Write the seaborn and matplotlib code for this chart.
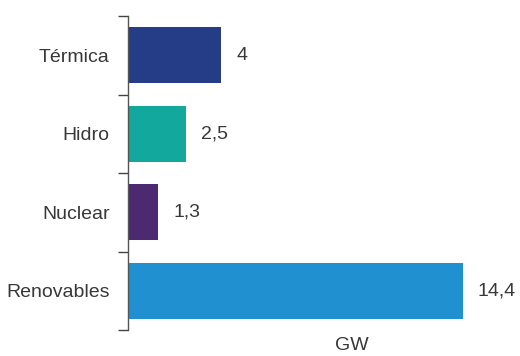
import matplotlib
matplotlib.use("Agg")
import matplotlib.pyplot as plt
import matplotlib.ticker as ticker
import pandas as pd
import seaborn as sns

categorias = ["Térmica", "Hidro", "Nuclear", "Renovables"]
potencia = [4.0, 2.5, 1.3, 14.4]
etiquetas = ["4", "2,5", "1,3", "14,4"]
colores = ["#253d87", "#12a89d", "#4b2a72", "#2190d0"]

df = pd.DataFrame({"categoria": categorias, "gw": potencia})

sns.set_style("white")
plt.rcParams["font.family"] = ["Liberation Sans", "DejaVu Sans"]

fig = plt.figure(figsize=(5.2, 3.56), dpi=100)
ax = fig.add_axes([0.246, 0.073, 0.75, 0.882])

sns.barplot(data=df, y="categoria", x="gw", hue="categoria", palette=colores,
            orient="h", width=0.71, legend=False, ax=ax, saturation=1,
            linewidth=0)

fs = 14
txt = "#383838"
for i, (v, t) in enumerate(zip(potencia, etiquetas)):
    ax.text(v + 0.65, i, t, va="center", ha="left", fontsize=fs, color=txt)

ax.set_xlim(0, 16.77)
ax.set_ylim(3.5, -0.5)
ax.set_xlabel("")
ax.set_ylabel("")
ax.set_xticks([])
ax.yaxis.set_minor_locator(ticker.FixedLocator([-0.5, 0.5, 1.5, 2.5, 3.5]))
ax.tick_params(axis="y", which="major", length=0, pad=13, labelsize=fs,
               labelcolor=txt)
ax.tick_params(axis="y", which="minor", length=7, width=1, color="#444444",
               direction="out", left=True)
for s in ["top", "right", "bottom"]:
    ax.spines[s].set_visible(False)
ax.spines["left"].set_color("#555555")
ax.spines["left"].set_linewidth(1)

fig.text(352 / 520, 1 - 346 / 356, "GW", ha="center", va="center",
         fontsize=fs, color=txt)

fig.savefig("out.png", dpi=100)
